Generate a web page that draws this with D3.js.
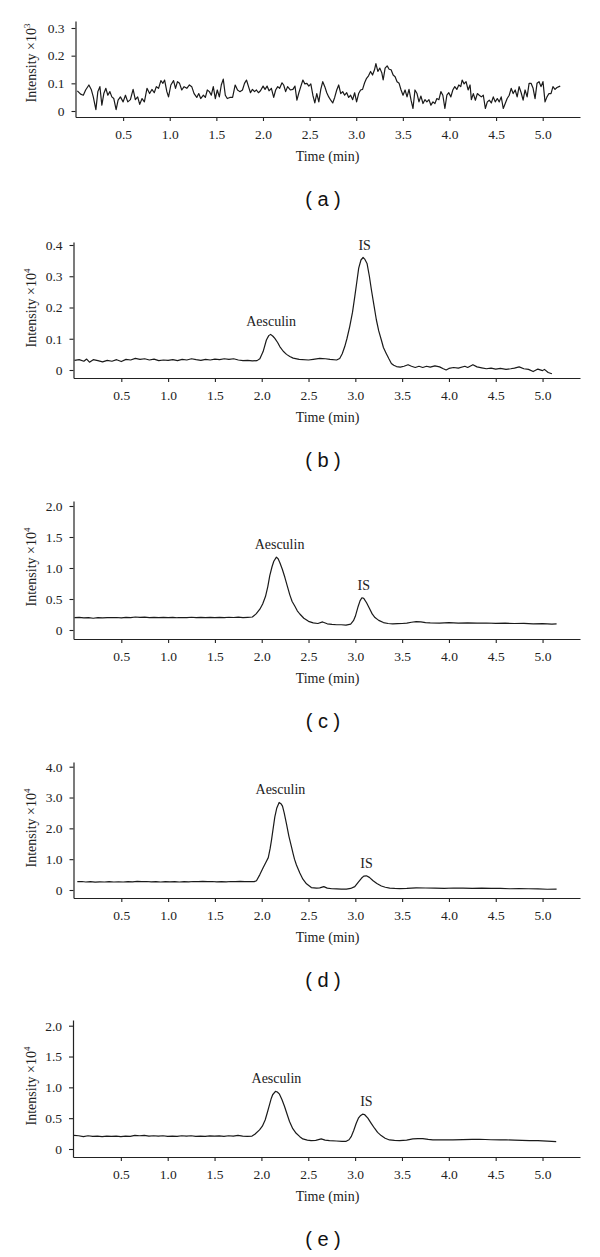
<!doctype html>
<html>
<head>
<meta charset="UTF-8">
<title>Aesculin chromatograms</title>
<script src="https://cdn.jsdelivr.net/npm/d3@7"></script>
<style>
  body { margin: 0; background: #fff; }
</style>
</head>
<body>
<svg id="chart" width="600" height="1257"></svg>
<script>
// x ticks shared by all five chromatograms
const timeTicks = [0.5, 1.0, 1.5, 2.0, 2.5, 3.0, 3.5, 4.0, 4.5, 5.0];
const timeMax = 5.4;

// y ticks per panel
const ticksA = [0, 0.1, 0.2, 0.3];
const ticksB = [0, 0.1, 0.2, 0.3, 0.4];
const ticksC = [0, 0.5, 1.0, 1.5, 2.0];
const ticksD = [0, 1.0, 2.0, 3.0, 4.0];
const ticksE = [0, 0.5, 1.0, 1.5, 2.0];

// traces: [time (min), intensity]
const traceA = [
  [0.009,0.073],[0.044,0.061],[0.073,0.057],[0.098,0.076],[0.133,0.094],[0.158,0.078],[0.180,0.051],[0.208,0.005],[0.229,0.070],[0.251,0.088],
  [0.272,0.021],[0.293,0.063],[0.315,0.082],[0.336,0.057],[0.358,0.070],[0.379,0.051],[0.400,0.045],[0.425,0.005],[0.446,0.039],[0.471,0.051],
  [0.500,0.033],[0.525,0.057],[0.550,0.033],[0.578,0.041],[0.607,0.078],[0.631,0.041],[0.656,0.051],[0.678,0.024],[0.703,0.045],[0.728,0.033],
  [0.756,0.082],[0.784,0.063],[0.809,0.078],[0.834,0.066],[0.856,0.088],[0.880,0.082],[0.905,0.110],[0.927,0.100],[0.945,0.112],[0.969,0.070],
  [0.987,0.051],[1.012,0.094],[1.041,0.110],[1.062,0.082],[1.083,0.106],[1.105,0.100],[1.129,0.076],[1.154,0.088],[1.183,0.082],[1.211,0.094],
  [1.236,0.088],[1.261,0.063],[1.290,0.049],[1.311,0.063],[1.332,0.045],[1.361,0.057],[1.382,0.049],[1.403,0.076],[1.425,0.070],[1.446,0.057],
  [1.467,0.088],[1.489,0.045],[1.510,0.076],[1.532,0.051],[1.553,0.094],[1.574,0.115],[1.596,0.057],[1.617,0.045],[1.645,0.049],[1.674,0.049],
  [1.702,0.094],[1.727,0.076],[1.752,0.070],[1.780,0.076],[1.802,0.100],[1.823,0.112],[1.845,0.088],[1.866,0.066],[1.887,0.078],[1.909,0.070],
  [1.930,0.076],[1.951,0.066],[1.973,0.073],[2.001,0.090],[2.022,0.078],[2.044,0.090],[2.065,0.073],[2.090,0.082],[2.115,0.049],[2.136,0.076],
  [2.158,0.088],[2.179,0.082],[2.204,0.102],[2.222,0.094],[2.243,0.070],[2.264,0.088],[2.293,0.076],[2.321,0.078],[2.343,0.090],[2.364,0.039],
  [2.385,0.066],[2.407,0.090],[2.428,0.112],[2.449,0.098],[2.471,0.100],[2.492,0.090],[2.513,0.098],[2.535,0.057],[2.556,0.029],[2.577,0.063],
  [2.599,0.033],[2.620,0.078],[2.641,0.106],[2.663,0.088],[2.684,0.066],[2.705,0.051],[2.727,0.039],[2.748,0.029],[2.769,0.049],[2.791,0.076],
  [2.812,0.094],[2.834,0.063],[2.855,0.070],[2.876,0.057],[2.898,0.066],[2.919,0.049],[2.940,0.057],[2.962,0.041],[2.983,0.066],[3.004,0.033],
  [3.026,0.063],[3.047,0.076],[3.068,0.078],[3.090,0.102],[3.111,0.118],[3.132,0.127],[3.154,0.143],[3.175,0.130],[3.196,0.149],[3.211,0.171],
  [3.232,0.143],[3.253,0.155],[3.275,0.137],[3.289,0.112],[3.310,0.155],[3.332,0.163],[3.353,0.151],[3.374,0.149],[3.396,0.130],[3.417,0.124],
  [3.438,0.106],[3.460,0.100],[3.481,0.076],[3.502,0.057],[3.524,0.076],[3.545,0.051],[3.566,0.078],[3.588,0.039],[3.609,0.009],[3.630,0.076],
  [3.652,0.063],[3.673,0.033],[3.694,0.054],[3.716,0.027],[3.737,0.041],[3.758,0.033],[3.780,0.041],[3.801,0.021],[3.823,0.033],[3.844,0.027],
  [3.865,0.045],[3.887,0.041],[3.908,0.070],[3.929,0.057],[3.951,0.009],[3.972,0.057],[3.993,0.066],[4.015,0.051],[4.036,0.076],[4.057,0.088],
  [4.079,0.078],[4.100,0.094],[4.121,0.088],[4.136,0.112],[4.157,0.098],[4.178,0.106],[4.200,0.076],[4.221,0.094],[4.235,0.041],[4.256,0.063],
  [4.278,0.039],[4.299,0.063],[4.320,0.057],[4.342,0.051],[4.363,0.057],[4.385,0.009],[4.406,0.033],[4.427,0.039],[4.449,0.029],[4.470,0.051],
  [4.491,0.033],[4.513,0.045],[4.534,0.033],[4.555,0.051],[4.577,0.009],[4.598,0.027],[4.619,0.045],[4.641,0.057],[4.662,0.082],[4.683,0.063],
  [4.705,0.076],[4.726,0.051],[4.747,0.088],[4.769,0.066],[4.790,0.039],[4.811,0.076],[4.833,0.051],[4.854,0.100],[4.875,0.100],[4.897,0.082],
  [4.918,0.045],[4.939,0.100],[4.961,0.106],[4.982,0.088],[5.003,0.106],[5.025,0.033],[5.046,0.051],[5.067,0.063],[5.089,0.063],[5.110,0.088],
  [5.132,0.078],[5.153,0.085],[5.174,0.088],[5.188,0.090]
];

const traceB = [
  [0.00,0.031],[0.05,0.033],[0.10,0.028],[0.13,0.035],[0.16,0.025],[0.20,0.033],[0.25,0.030],[0.30,0.026],[0.35,0.031],[0.40,0.028],
  [0.45,0.033],[0.50,0.027],[0.55,0.034],[0.60,0.032],[0.65,0.037],[0.70,0.034],[0.75,0.036],[0.80,0.032],[0.85,0.035],[0.90,0.030],
  [0.95,0.032],[1.00,0.031],[1.05,0.033],[1.10,0.030],[1.15,0.034],[1.20,0.032],[1.25,0.036],[1.30,0.033],[1.35,0.031],[1.40,0.034],
  [1.45,0.032],[1.50,0.035],[1.55,0.033],[1.60,0.036],[1.65,0.034],[1.70,0.036],[1.75,0.032],[1.80,0.030],[1.85,0.031],[1.90,0.029],
  [1.95,0.030],[1.98,0.036],[2.015,0.059],[2.05,0.096],[2.075,0.110],[2.095,0.114],[2.12,0.108],[2.14,0.101],[2.17,0.088],[2.193,0.075],
  [2.23,0.060],[2.265,0.050],[2.30,0.043],[2.336,0.038],[2.40,0.034],[2.50,0.032],[2.55,0.034],[2.62,0.037],[2.68,0.036],[2.73,0.034],
  [2.80,0.032],[2.833,0.037],[2.86,0.052],[2.887,0.075],[2.91,0.100],[2.94,0.139],[2.97,0.185],[2.994,0.235],[3.015,0.280],[3.036,0.326],
  [3.06,0.352],[3.083,0.360],[3.10,0.355],[3.125,0.341],[3.15,0.300],[3.172,0.256],[3.20,0.205],[3.225,0.160],[3.25,0.125],[3.278,0.096],
  [3.30,0.072],[3.33,0.053],[3.36,0.035],[3.385,0.021],[3.41,0.015],[3.44,0.011],[3.48,0.009],[3.52,0.012],[3.563,0.017],[3.60,0.012],
  [3.64,0.008],[3.68,0.012],[3.72,0.008],[3.76,0.012],[3.80,0.009],[3.85,0.013],[3.90,0.010],[3.94,0.004],[3.97,0.000],[4.00,0.005],
  [4.05,0.008],[4.10,0.006],[4.17,0.012],[4.20,0.008],[4.256,0.017],[4.30,0.010],[4.35,0.007],[4.40,0.004],[4.45,0.006],[4.50,0.003],
  [4.55,0.005],[4.61,0.002],[4.66,0.004],[4.70,0.006],[4.75,0.010],[4.80,0.004],[4.85,0.002],[4.90,-0.005],[4.95,0.003],[5.00,-0.002],
  [5.02,0.002],[5.06,-0.008],[5.10,-0.012]
];

const traceC = [
  [0.00,0.200],[0.05,0.205],[0.10,0.195],[0.15,0.200],[0.20,0.190],[0.25,0.200],[0.30,0.195],[0.35,0.200],[0.40,0.198],[0.45,0.202],
  [0.50,0.195],[0.55,0.205],[0.60,0.200],[0.65,0.210],[0.70,0.205],[0.75,0.208],[0.80,0.200],[0.85,0.205],[0.90,0.200],[0.95,0.204],
  [1.00,0.200],[1.05,0.205],[1.10,0.198],[1.15,0.202],[1.20,0.200],[1.25,0.206],[1.30,0.200],[1.35,0.204],[1.40,0.200],[1.45,0.205],
  [1.50,0.200],[1.55,0.203],[1.60,0.200],[1.65,0.206],[1.70,0.202],[1.75,0.207],[1.80,0.200],[1.85,0.205],[1.90,0.210],[1.94,0.260],
  [1.98,0.335],[2.01,0.420],[2.04,0.540],[2.065,0.700],[2.086,0.876],[2.11,1.020],[2.129,1.108],[2.157,1.175],[2.175,1.150],[2.193,1.090],
  [2.22,0.980],[2.247,0.850],[2.275,0.700],[2.30,0.567],[2.325,0.460],[2.353,0.387],[2.38,0.310],[2.407,0.258],[2.45,0.190],[2.50,0.140],
  [2.55,0.115],[2.60,0.105],[2.65,0.130],[2.70,0.100],[2.75,0.090],[2.80,0.085],[2.85,0.085],[2.90,0.080],[2.95,0.095],[2.98,0.150],
  [3.00,0.220],[3.03,0.380],[3.05,0.470],[3.07,0.520],[3.09,0.510],[3.12,0.440],[3.15,0.350],[3.18,0.260],[3.21,0.200],[3.25,0.155],
  [3.30,0.120],[3.35,0.105],[3.40,0.100],[3.45,0.102],[3.50,0.105],[3.55,0.110],[3.60,0.125],[3.65,0.135],[3.70,0.130],[3.75,0.120],
  [3.80,0.115],[3.90,0.110],[4.00,0.118],[4.10,0.112],[4.20,0.115],[4.30,0.110],[4.40,0.113],[4.50,0.108],[4.60,0.110],[4.70,0.105],
  [4.80,0.108],[4.90,0.100],[5.00,0.102],[5.10,0.095],[5.15,0.098]
];

const traceD = [
  [0.03,0.270],[0.08,0.275],[0.12,0.260],[0.17,0.270],[0.22,0.255],[0.27,0.265],[0.32,0.260],[0.37,0.270],[0.42,0.260],[0.47,0.265],
  [0.52,0.260],[0.57,0.270],[0.62,0.265],[0.67,0.280],[0.72,0.270],[0.77,0.275],[0.82,0.265],[0.87,0.270],[0.92,0.260],[0.97,0.270],
  [1.02,0.265],[1.07,0.270],[1.12,0.260],[1.17,0.270],[1.22,0.265],[1.27,0.275],[1.32,0.270],[1.37,0.280],[1.42,0.270],[1.47,0.275],
  [1.52,0.265],[1.57,0.270],[1.62,0.265],[1.67,0.275],[1.72,0.270],[1.77,0.280],[1.82,0.270],[1.87,0.275],[1.92,0.270],[1.944,0.300],
  [1.98,0.500],[2.015,0.720],[2.045,0.900],[2.07,1.050],[2.09,1.350],[2.104,1.610],[2.12,1.950],[2.14,2.370],[2.16,2.650],[2.186,2.840],
  [2.205,2.800],[2.222,2.720],[2.24,2.500],[2.264,2.150],[2.29,1.750],[2.318,1.400],[2.335,1.180],[2.35,1.000],[2.371,0.810],[2.39,0.670],
  [2.407,0.550],[2.44,0.350],[2.478,0.200],[2.53,0.080],[2.585,0.060],[2.62,0.070],[2.663,0.110],[2.70,0.060],[2.75,0.040],[2.80,0.035],
  [2.85,0.030],[2.905,0.030],[2.95,0.050],[2.994,0.110],[3.03,0.250],[3.065,0.380],[3.09,0.450],[3.118,0.460],[3.15,0.410],[3.19,0.300],
  [3.23,0.210],[3.278,0.130],[3.32,0.090],[3.367,0.060],[3.42,0.050],[3.474,0.045],[3.55,0.050],[3.65,0.070],[3.75,0.065],[3.85,0.060],
  [3.95,0.055],[4.05,0.065],[4.15,0.060],[4.25,0.055],[4.35,0.060],[4.45,0.050],[4.55,0.055],[4.65,0.040],[4.75,0.045],[4.85,0.040],
  [4.95,0.035],[5.05,0.025],[5.15,0.030]
];

const traceE = [
  [0.00,0.220],[0.05,0.215],[0.10,0.200],[0.15,0.215],[0.20,0.205],[0.25,0.210],[0.30,0.200],[0.35,0.210],[0.40,0.205],[0.45,0.210],
  [0.50,0.200],[0.55,0.210],[0.60,0.205],[0.65,0.220],[0.70,0.215],[0.75,0.220],[0.80,0.210],[0.85,0.215],[0.90,0.210],[0.95,0.215],
  [1.00,0.205],[1.05,0.210],[1.10,0.205],[1.15,0.215],[1.20,0.210],[1.25,0.215],[1.30,0.205],[1.35,0.210],[1.40,0.205],[1.45,0.212],
  [1.50,0.208],[1.55,0.212],[1.60,0.205],[1.65,0.215],[1.70,0.210],[1.75,0.220],[1.80,0.210],[1.85,0.205],[1.90,0.210],[1.93,0.240],
  [1.98,0.310],[2.01,0.370],[2.04,0.470],[2.065,0.600],[2.086,0.717],[2.105,0.820],[2.12,0.880],[2.15,0.935],[2.17,0.925],[2.193,0.890],
  [2.22,0.800],[2.247,0.690],[2.275,0.560],[2.30,0.446],[2.335,0.330],[2.371,0.255],[2.41,0.200],[2.442,0.163],[2.49,0.145],[2.53,0.136],
  [2.58,0.140],[2.638,0.163],[2.68,0.145],[2.727,0.136],[2.80,0.130],[2.86,0.125],[2.905,0.125],[2.935,0.150],[2.958,0.200],[2.985,0.300],
  [3.012,0.418],[3.035,0.500],[3.055,0.538],[3.08,0.565],[3.10,0.560],[3.136,0.500],[3.17,0.420],[3.207,0.337],[3.24,0.270],[3.278,0.217],
  [3.32,0.175],[3.367,0.147],[3.42,0.140],[3.474,0.136],[3.55,0.145],[3.616,0.163],[3.67,0.168],[3.722,0.168],[3.78,0.155],[3.83,0.147],
  [3.93,0.150],[4.043,0.147],[4.15,0.152],[4.25,0.155],[4.328,0.158],[4.45,0.150],[4.55,0.148],[4.612,0.147],[4.70,0.145],[4.78,0.140],
  [4.861,0.136],[4.95,0.135],[5.05,0.128],[5.146,0.120]
];

// peak annotations: [name, time, apex intensity]
const peaksB = [["Aesculin", 2.10, 0.114], ["IS", 3.10, 0.360]];
const peaksC = [["Aesculin", 2.19, 1.175], ["IS", 3.09, 0.520]];
const peaksD = [["Aesculin", 2.20, 2.840], ["IS", 3.12, 0.460]];
const peaksE = [["Aesculin", 2.16, 0.935], ["IS", 3.12, 0.565]];

const exponents = ["3", "4", "4", "4", "4"];
const captions = ["a", "b", "c", "d", "e"];

// pixel layout of each panel (axis frame + where the 0 and top ticks sit)
const panels = [
  { trace: traceA, ticks: ticksA, peaks: [],     left: 75.5, top: 21,   axisY: 117,  zeroPx: 111,  topPx: 28,    labelY: 63 },
  { trace: traceB, ticks: ticksB, peaks: peaksB, left: 73.5, top: 242,  axisY: 378,  zeroPx: 370,  topPx: 245,   labelY: 308 },
  { trace: traceC, ticks: ticksC, peaks: peaksC, left: 73.5, top: 501,  axisY: 639,  zeroPx: 630,  topPx: 506,   labelY: 567 },
  { trace: traceD, ticks: ticksD, peaks: peaksD, left: 73.5, top: 762,  axisY: 898,  zeroPx: 890,  topPx: 766.7, labelY: 828 },
  { trace: traceE, ticks: ticksE, peaks: peaksE, left: 73,   top: 1020, axisY: 1157, zeroPx: 1149, topPx: 1025.7, labelY: 1086 }
];

const serif = '"Liberation Serif", "Times New Roman", serif';
const sans = '"Liberation Sans", Arial, sans-serif';
const ink = "#222";

const svg = d3.select("#chart");

panels.forEach((p, i) => {
  const g = svg.append("g");

  const x = d3.scaleLinear().domain([0, timeMax]).range([p.left + 1, 580]);
  x.domain([x.invert(p.left), timeMax]).range([p.left, 580]);

  const topTick = p.ticks[p.ticks.length - 1];
  const y = d3.scaleLinear().domain([0, topTick]).range([p.zeroPx, p.topPx]);
  y.domain([y.invert(p.axisY), y.invert(p.top)]).range([p.axisY, p.top]);

  const fmtY = d => d === 0 ? "0" : d3.format(".1f")(d);

  const xAxis = g.append("g")
    .attr("transform", `translate(0,${p.axisY})`)
    .call(d3.axisBottom(x).tickValues(timeTicks).tickFormat(d3.format(".1f"))
      .tickSize(4).tickSizeOuter(0).tickPadding(8));

  const yAxis = g.append("g")
    .attr("transform", `translate(${p.left},0)`)
    .call(d3.axisLeft(y).tickValues(p.ticks).tickFormat(fmtY)
      .tickSize(4).tickSizeOuter(0).tickPadding(7));

  [xAxis, yAxis].forEach(a => {
    a.attr("font-family", serif).attr("font-size", 13.5);
    a.select(".domain").attr("stroke", ink).attr("stroke-width", 1.2);
    a.selectAll(".tick line").attr("stroke", ink).attr("stroke-width", 1.1);
    a.selectAll(".tick text").attr("fill", ink);
  });

  // trace
  const line = d3.line().x(d => x(d[0])).y(d => y(d[1]));
  g.append("path")
    .datum(p.trace)
    .attr("d", line)
    .attr("fill", "none")
    .attr("stroke", "#1a1a1a")
    .attr("stroke-width", 1.2)
    .attr("stroke-linejoin", "round");

  // peak names
  g.selectAll(".peak")
    .data(p.peaks)
    .join("text")
    .attr("x", d => x(d[1]))
    .attr("y", d => y(d[2]) - 8)
    .attr("text-anchor", "middle")
    .attr("font-family", serif)
    .attr("font-size", 14)
    .attr("fill", ink)
    .text(d => d[0]);

  // y title
  const yt = g.append("text")
    .attr("transform", `translate(36,${p.labelY}) rotate(-90)`)
    .attr("text-anchor", "middle")
    .attr("font-family", serif)
    .attr("font-size", 14)
    .attr("fill", ink);
  yt.append("tspan").text("Intensity \u00d710");
  yt.append("tspan").attr("dy", -6).attr("font-size", 9).text(exponents[i]);

  // x title
  g.append("text")
    .attr("x", 327.5)
    .attr("y", p.axisY + 44)
    .attr("text-anchor", "middle")
    .attr("font-family", serif)
    .attr("font-size", 14)
    .attr("fill", ink)
    .text("Time (min)");

  // caption
  g.append("text")
    .attr("x", 323)
    .attr("y", p.axisY + 89)
    .attr("text-anchor", "middle")
    .attr("font-family", sans)
    .attr("font-size", 20)
    .attr("fill", "#111")
    .text(`( ${captions[i]} )`);
});
</script>
</body>
</html>
